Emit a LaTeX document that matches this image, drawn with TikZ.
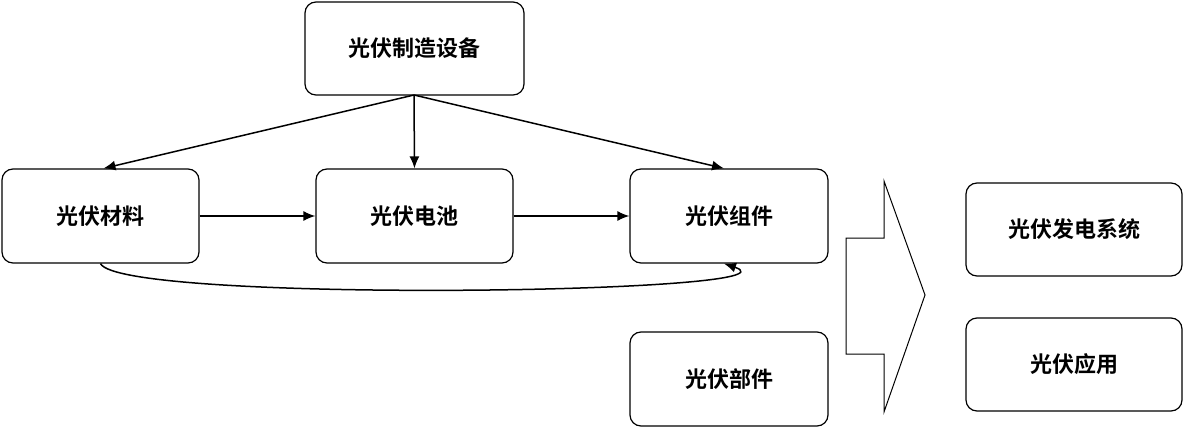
\documentclass[tikz,border=0pt]{standalone}
\usepackage{fontspec}
\usetikzlibrary{arrows.meta}
\newfontfamily\cjk{Noto Sans CJK SC Bold}
\begin{document}
\begin{tikzpicture}[x=1pt,y=-1pt,
  box/.style={draw,line width=1.2pt,rounded corners=11pt,inner sep=0pt,font=\cjk\fontsize{22}{26}\selectfont},
  arr/.style={line width=1.5pt,-{Latex[length=12pt,width=10pt]}}]
\useasboundingbox (0,0) rectangle (1184,428);
\newcommand\bx[6]{\node[box,minimum width=#4-#2,minimum height=#5-#3] (#1) at ({(#2+#4)/2},{(#3+#5)/2}) {#6};}
\bx{eq}{305}{2}{524}{95}{光伏制造设备}
\bx{mat}{2}{169}{199}{263}{光伏材料}
\bx{cell}{316}{169}{513}{263}{光伏电池}
\bx{mod}{630}{169}{828}{263}{光伏组件}
\bx{part}{630}{332}{828}{426}{光伏部件}
\bx{sys}{966}{183}{1182}{276}{光伏发电系统}
\bx{app}{966}{318}{1182}{411}{光伏应用}
\coordinate (s) at (414,95);
\draw[arr] (s) -- ([xshift=3pt]mat.north);
\draw[arr] (s) -- (cell.north);
\draw[arr] (s) -- ([xshift=-5pt]mod.north);
\draw[arr] (mat) -- (cell);
\draw[arr] (cell) -- (mod);
\draw[arr] (mat.south) .. controls +(20,40) and +(90,30) .. ([xshift=-5pt]mod.south);
\draw[line width=1pt,line join=miter] (884,181) -- (925,295) -- (884,412) -- (884,354) -- (846,354) -- (846,238) -- (884,238) -- cycle;
\end{tikzpicture}
\end{document}
